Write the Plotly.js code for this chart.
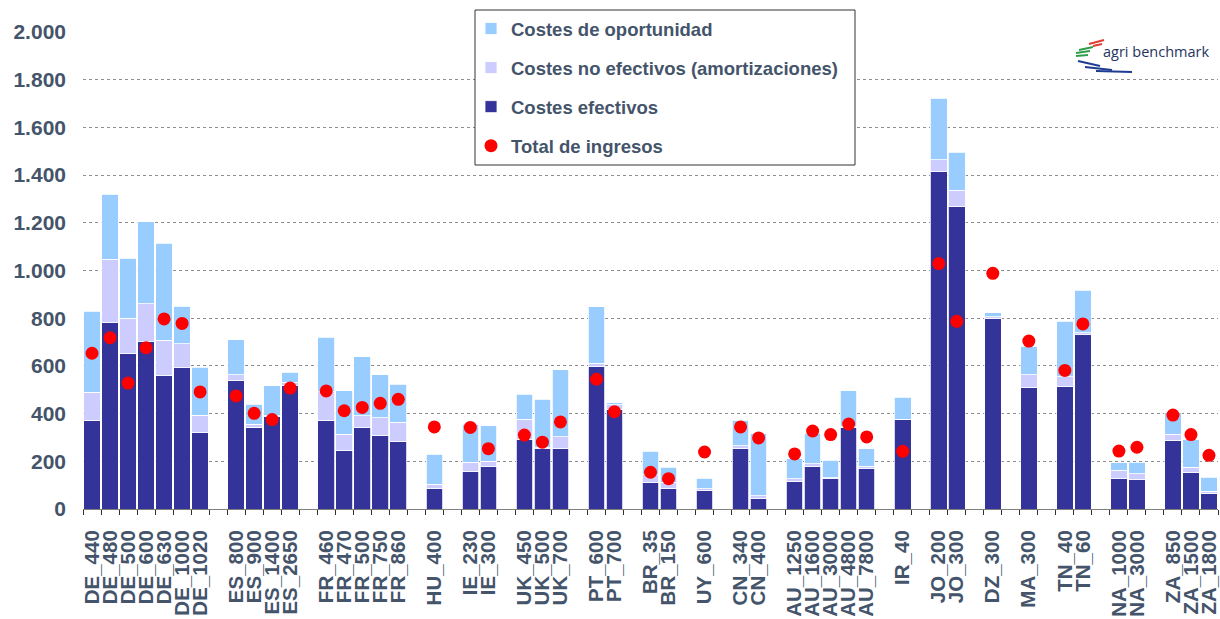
<!DOCTYPE html>
<html>
<head>
<meta charset="utf-8">
<script src="https://cdn.plot.ly/plotly-3.0.1.min.js"></script>
<style>html,body{margin:0;padding:0;background:#fff;}#chart{width:1220px;height:619px;}</style>
</head>
<body>
<div id="chart"></div>
<script>
const categories = ["DE_440","DE_480","DE_500","DE_600","DE_630","DE_1000","DE_1020",
  "ES_800","ES_900","ES_1400","ES_2650",
  "FR_460","FR_470","FR_500","FR_750","FR_860",
  "HU_400","IE_230","IE_300","UK_450","UK_500","UK_700","PT_600","PT_700",
  "BR_35","BR_150","UY_600","CN_340","CN_400",
  "AU_1250","AU_1600","AU_3000","AU_4800","AU_7800",
  "IR_40","JO_200","JO_300","DZ_300","MA_300","TN_40","TN_60",
  "NA_1000","NA_3000","ZA_850","ZA_1500","ZA_1800"];

const costesEfectivos = [373,783,650,702,559,595,319,
  539,342,387,516,
  372,247,341,307,284,
  84,159,180,292,253,252,597,418,
  112,85,77,253,46,
  117,180,126,341,168,
  375,1414,1269,799,510,512,732,
  126,122,289,155,64];

const costesNoEfectivos = [116,264,149,159,148,98,74,
  24,14,3,15,
  120,67,50,75,79,
  19,38,21,85,3,50,15,19,
  31,28,7,13,9,
  9,9,5,4,11,
  2,51,67,7,52,43,6,
  36,25,24,20,11];

const costesOportunidad = [341,272,252,344,407,157,202,
  146,84,127,42,
  228,182,248,180,160,
  126,159,148,104,204,282,236,9,
  100,63,45,106,261,
  84,128,74,151,74,
  91,258,159,16,120,233,180,
  32,49,91,116,58];

const totalIngresos = [653,718,528,676,797,778,491,
  474,401,375,507,
  495,412,426,443,460,
  344,342,253,310,280,365,544,408,
  154,127,239,344,298,
  231,327,312,356,302,
  242,1029,787,988,704,581,776,
  243,259,394,312,225];

const seriesNames = ["Costes de oportunidad","Costes no efectivos (amortizaciones)","Costes efectivos","Total de ingresos"];
const yTicks = [0,200,400,600,800,1000,1200,1400,1600,1800,2000];

// axis categories with an empty slot between countries
const axisCats = [];
let gapN = 0;
categories.forEach((c, i) => {
  if (i > 0 && c.split('_')[0] !== categories[i - 1].split('_')[0]) {
    gapN++;
    axisCats.push(' '.repeat(gapN));
  }
  axisCats.push(c);
});

const FONT = 'Arial, "Liberation Sans", sans-serif';
const TXT = '#44546A';

const traces = [
  {type:'bar', name:seriesNames[2], x:categories, y:costesEfectivos,
   marker:{color:'#333399', line:{color:'#ffffff', width:0.8}},
   legendgroup:'c', legendrank:3},
  {type:'bar', name:seriesNames[1], x:categories, y:costesNoEfectivos,
   marker:{color:'#CCCCFF', line:{color:'#ffffff', width:0.8}},
   legendgroup:'b', legendrank:2},
  {type:'bar', name:seriesNames[0], x:categories, y:costesOportunidad,
   marker:{color:'#99CCFF', line:{color:'#ffffff', width:0.8}},
   legendgroup:'a', legendrank:1},
  {type:'scatter', mode:'markers', name:seriesNames[3], x:categories, y:totalIngresos,
   marker:{color:'#FF0000', size:13},
   legendgroup:'d', legendrank:4}
];

function px(x){ return (x - 83) / 1135; }
function py(y){ return (509 - y) / 477; }

const logoShapes = [
  {c:'#E03C31', p:[[1089,44],[1104,40]]},
  {c:'#E03C31', p:[[1093,46],[1102,44]]},
  {c:'#2E9E4A', p:[[1079,50],[1093,47]]},
  {c:'#2E9E4A', p:[[1076,53],[1090,51]]},
  {c:'#2E9E4A', p:[[1076,56],[1088,55]]},
  {c:'#1F3C93', p:[[1078,61],[1100,66]]},
  {c:'#1F3C93', p:[[1085,67],[1112,70]]},
  {c:'#1F3C93', p:[[1096,71],[1132,72]]}
].map(s => ({type:'line', xref:'paper', yref:'paper',
  x0:px(s.p[0][0]), y0:py(s.p[0][1]), x1:px(s.p[1][0]), y1:py(s.p[1][1]),
  line:{color:s.c, width:2}}));

const legendBox = {type:'rect', xref:'paper', yref:'paper', layer:'above',
  x0:px(475), x1:px(855), y0:py(165), y1:py(10),
  fillcolor:'#ffffff', line:{color:'#333333', width:1}};

const layout = {
  width:1220, height:619,
  margin:{l:83, r:2, t:32, b:110, pad:0},
  paper_bgcolor:'#ffffff', plot_bgcolor:'#ffffff',
  barmode:'stack', bargap:0.08,
  separators:',.',
  font:{family:FONT, color:TXT},
  showlegend:true,
  legend:{x:px(471), y:py(10), xanchor:'left', yanchor:'top',
    borderwidth:0, bgcolor:'rgba(0,0,0,0)',
    font:{family:FONT, size:18.5, color:TXT, weight:'bold'},
    traceorder:'grouped', tracegroupgap:12, itemwidth:30},
  xaxis:{type:'category', categoryorder:'array', categoryarray:axisCats,
    tickmode:'array', tickvals:axisCats, ticktext:axisCats,
    range:[-0.5, axisCats.length - 0.5],
    tickson:'boundaries', ticks:'outside', ticklen:5, tickcolor:'#333333', tickwidth:1,
    showline:true, linecolor:'#808080', linewidth:1,
    tickangle:-90, ticklabelstandoff:12,
    tickfont:{family:FONT, size:20.5, color:TXT, weight:'bold'},
    showgrid:false, automargin:false, fixedrange:true},
  yaxis:{range:[0,2000], tickvals:yTicks, tickformat:',.0f',
    showgrid:true, gridcolor:'#8c8c8c', griddash:'dot', gridwidth:1,
    zeroline:false, showline:false, ticks:'',
    ticklabelstandoff:16,
    tickfont:{family:FONT, size:21, color:TXT, weight:'bold'},
    automargin:false, fixedrange:true},
  shapes:[legendBox].concat(logoShapes),
  annotations:[{xref:'paper', yref:'paper', x:px(1101), y:py(51), xanchor:'left', yanchor:'middle',
    text:'agri benchmark', showarrow:false,
    font:{family:'"Open Sans", Arial, sans-serif', size:14.5, color:'#24345E'}}]
};

Plotly.newPlot('chart', traces, layout, {displayModeBar:false, staticPlot:true});
</script>
</body>
</html>
